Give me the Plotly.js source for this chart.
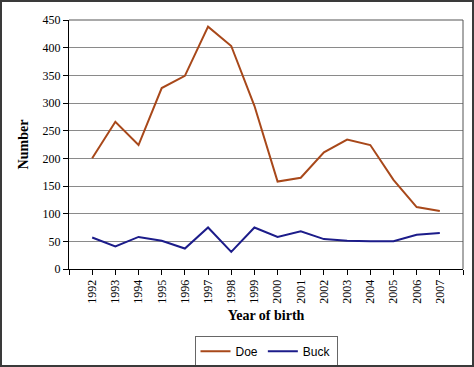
<!DOCTYPE html>
<html>
<head>
<meta charset="utf-8">
<script src="https://cdn.plot.ly/plotly-3.0.1.min.js"></script>
<style>
  html, body { margin: 0; padding: 0; background: #fff; }
  #wrap { position: relative; width: 474px; height: 367px; }
  #chart { width: 474px; height: 367px; }
  #frame { position: absolute; left: 0; top: 0; width: 474px; height: 367px;
           box-sizing: border-box; border: 2px solid #3a3a3a; pointer-events: none; }
</style>
</head>
<body>
<div id="wrap">
  <div id="chart"></div>
  <div id="frame"></div>
</div>
<script>
// Births per year, by sex
const years = [1992, 1993, 1994, 1995, 1996, 1997, 1998, 1999,
               2000, 2001, 2002, 2003, 2004, 2005, 2006, 2007];
const doe  = [200, 266, 224, 327, 349, 438, 403, 295,
              158, 165, 211, 234, 224, 161, 112, 105];
const buck = [57, 41, 58, 51, 37, 75, 31, 75,
              58, 68, 54, 51, 50, 50, 62, 65];
const yTicks = [0, 50, 100, 150, 200, 250, 300, 350, 400, 450];

const serif = 'Liberation Serif, Times New Roman, serif';
const sans = 'Liberation Sans, Arial, sans-serif';

const traces = [
  { x: years, y: doe, name: 'Doe', type: 'scatter', mode: 'lines',
    line: { color: '#A8481A', width: 2 } },
  { x: years, y: buck, name: 'Buck', type: 'scatter', mode: 'lines',
    line: { color: '#1C1C8A', width: 2 } }
];

const layout = {
  width: 474, height: 367,
  margin: { l: 69, r: 11, t: 20, b: 98, autoexpand: false },
  paper_bgcolor: '#fff', plot_bgcolor: '#fff',
  showlegend: true,
  legend: {
    orientation: 'h', xref: 'paper', x: 0.5, xanchor: 'center',
    yref: 'container', y: 0.085, yanchor: 'top',
    bordercolor: '#666', borderwidth: 1,
    font: { family: sans, size: 12, color: '#000' },
    itemwidth: 30, tracegroupgap: 0
  },
  xaxis: {
    range: [years[0] - 1, years[years.length - 1] + 1],
    tickmode: 'array', tickvals: years, ticktext: years.map(String),
    tickangle: -90,
    ticks: 'outside', ticklen: 5, tickcolor: '#000',
    minor: { dtick: 1, tick0: 0, ticks: 'outside', ticklen: 5, tickcolor: '#000' },
    showline: true, linecolor: '#000', linewidth: 1, mirror: false,
    showgrid: false, zeroline: false, automargin: false,
    tickfont: { family: serif, size: 12, color: '#000' },
    title: { text: '<b>Year of birth</b>', standoff: 7,
             font: { family: serif, size: 14, color: '#000' } }
  },
  yaxis: {
    range: [0, 450],
    tickmode: 'array', tickvals: yTicks,
    ticks: 'outside', ticklen: 5, tickcolor: '#000',
    showline: true, linecolor: '#000', linewidth: 1,
    showgrid: true, gridcolor: '#8a8a8a', gridwidth: 1,
    zeroline: false, automargin: false,
    tickfont: { family: serif, size: 12, color: '#000' },
    title: { text: '<b>Number</b>', standoff: 10,
             font: { family: serif, size: 14, color: '#000' } }
  },
  shapes: [
    // top and right edges of the plot box
    { type: 'line', xref: 'paper', yref: 'paper', x0: 0, x1: 1, y0: 1, y1: 1,
      line: { color: '#555', width: 1 } },
    { type: 'line', xref: 'paper', yref: 'paper', x0: 1, x1: 1, y0: 0, y1: 1,
      line: { color: '#555', width: 1 } }
  ]
};

Plotly.newPlot('chart', traces, layout, { displayModeBar: false, staticPlot: true });
</script>
</body>
</html>
